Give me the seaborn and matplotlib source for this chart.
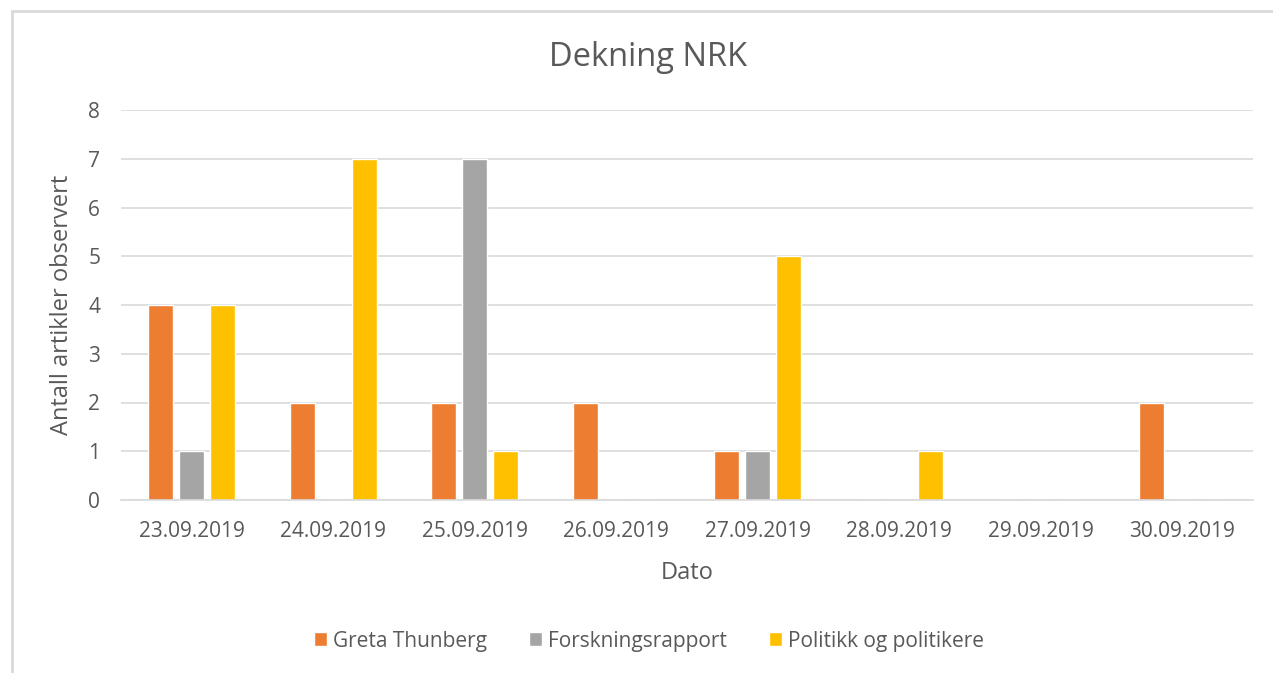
import pandas as pd
import matplotlib.pyplot as plt
import seaborn as sns
from matplotlib.patches import Rectangle
from matplotlib.ticker import FixedLocator

dates = ['23.09.2019', '24.09.2019', '25.09.2019', '26.09.2019',
         '27.09.2019', '28.09.2019', '29.09.2019', '30.09.2019']
greta = [4, 2, 2, 2, 1, 0, 0, 2]
forskning = [1, 0, 7, 0, 1, 0, 0, 0]
politikk = [4, 7, 1, 0, 5, 1, 0, 0]
series = ['Greta Thunberg', 'Forskningsrapport', 'Politikk og politikere']
colors = ['#ED7D31', '#A5A5A5', '#FFC000']

df = pd.DataFrame({
    'Dato': dates * 3,
    'Antall': greta + forskning + politikk,
    'Serie': [s for s in series for _ in dates],
})

sns.set_style('white')
plt.rcParams['font.family'] = ['Open Sans', 'DejaVu Sans']
txt = '#595959'

fig = plt.figure(figsize=(12.73, 6.73), dpi=100)
ax = fig.add_axes([121 / 1273, 1 - 500 / 673, (1253 - 121) / 1273, 390 / 673])

sns.barplot(data=df, x='Dato', y='Antall', hue='Serie', hue_order=series,
            palette=colors, width=0.66, gap=0.2, ax=ax, legend=True,
            saturation=1)

ax.set_ylim(0, 8)
ax.set_xlim(-0.5, len(dates) - 0.5)
ax.set_yticks(range(0, 9))
ax.yaxis.grid(True, color='#D9D9D9', linewidth=1.2)
ax.set_axisbelow(True)
for s in ['left', 'right', 'top']:
    ax.spines[s].set_visible(False)
ax.spines['bottom'].set_color('#D9D9D9')
ax.spines['bottom'].set_linewidth(1.2)

ax.xaxis.set_minor_locator(FixedLocator([i - 0.5 for i in range(len(dates) + 1)]))
ax.tick_params(axis='x', which='major', length=0, pad=15, labelsize=15, labelcolor=txt)
ax.tick_params(axis='x', which='minor', length=6, width=1.2, color='#D9D9D9')
ax.tick_params(axis='y', length=0, pad=15, labelsize=15, labelcolor=txt)

ax.set_xlabel('Dato', fontsize=17, color=txt, labelpad=14)
ax.set_ylabel('Antall artikler observert', fontsize=17, color=txt, labelpad=10)
fig.text(648 / 1273, 1 - 57 / 673, 'Dekning NRK', fontsize=23.5, color=txt,
         ha='center', va='center')

handles, labels = ax.get_legend_handles_labels()
ax.legend(handles, labels, loc='center', bbox_to_anchor=(649 / 1273, 1 - 641 / 673),
          bbox_transform=fig.transFigure, ncol=3, frameon=False, fontsize=15,
          handlelength=0.62, handleheight=0.62, handletextpad=0.3, columnspacing=2.0,
          labelcolor=txt)

fig.patches.append(Rectangle((12 / 1273, -0.1), 1.2, 1 - 11 / 673 + 0.1,
                             transform=fig.transFigure, fill=False,
                             edgecolor='#D9D9D9', linewidth=2))

fig.savefig('out.png', dpi=100)
